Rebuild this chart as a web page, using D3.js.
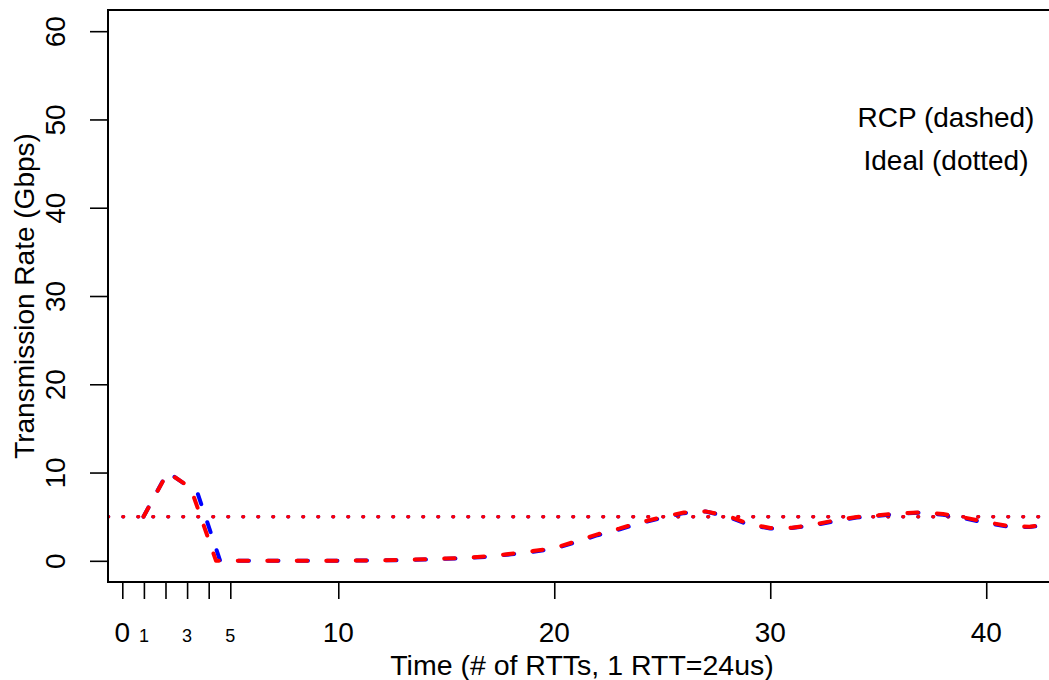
<!DOCTYPE html>
<html>
<head>
<meta charset="utf-8">
<script src="https://cdn.jsdelivr.net/npm/d3@7"></script>
<style>
  body { margin: 0; background: #fff; }
  svg { display: block; }
  text { font-family: "Liberation Sans", Arial, Helvetica, sans-serif; fill: #000; }
</style>
</head>
<body>
<svg id="chart" width="1049" height="680"></svg>
<script>
// Time in RTTs (1 RTT = 24us) and transmission rate in Gbps
const redTimes   = [0.98, 2.1, 3.16, 4.34, 5, 6, 8, 10, 12, 13, 14, 15, 16, 17, 18, 19, 20, 21, 22, 23, 24, 25, 26, 27, 28, 29, 30, 31, 32, 33, 34, 35, 36, 37, 38, 39, 40, 41, 42, 43, 44];
const redRates   = [5.0, 10.0, 8.3, 0.0, 0.0, 0.0, 0.0, 0.02, 0.06, 0.1, 0.17, 0.26, 0.36, 0.52, 0.8, 1.1, 1.45, 2.2, 3.0, 3.65, 4.36, 4.95, 5.47, 5.6, 5.12, 4.2, 3.72, 3.75, 4.1, 4.58, 4.97, 5.15, 5.39, 5.48, 5.3, 4.9, 4.4, 3.94, 3.86, 4.2, 4.6];
const blueTimes  = [0.98, 2.1, 3.48, 4.53, 5, 6, 8, 10, 12, 13, 14, 15, 16, 17, 18, 19, 20, 21, 22, 23, 24, 25, 26, 27, 28, 29, 30, 31, 32, 33, 34, 35, 36, 37, 38, 39, 40, 41, 42, 43, 44];
const blueRates  = [5.0, 10.05, 7.7, 0.0, 0.0, 0.0, 0.0, 0.02, 0.05, 0.09, 0.15, 0.23, 0.32, 0.47, 0.74, 1.03, 1.38, 2.1, 2.9, 3.55, 4.27, 4.87, 5.4, 5.58, 5.02, 4.1, 3.66, 3.72, 4.03, 4.5, 4.9, 5.1, 5.35, 5.46, 5.22, 4.8, 4.3, 3.88, 3.82, 4.12, 4.5];
const idealRate  = 5;

const yTicks        = [0, 10, 20, 30, 40, 50, 60];
const xMajorTicks   = [0, 10, 20, 30, 40];
const xMinorTicks   = [1, 2, 3, 4, 5];
const xMinorLabels  = ["1", "", "3", "", "5"];
const legendLines   = ["RCP (dashed)", "Ideal (dotted)"];
const xTitle = "Time (# of RTTs, 1 RTT=24us)";
const yTitle = "Transmission Rate (Gbps)";

// plot region (right border falls just outside the canvas)
const box = { left: 108, right: 1056, top: 10, bottom: 582 };

const svg = d3.select("#chart");

const x = d3.scaleLinear().domain([-0.662, 43.23]).range([box.left, box.right]);
const y = d3.scaleLinear().domain([-2.4, 62.4]).range([box.bottom, box.top]);

svg.append("defs").append("clipPath").attr("id", "plotClip")
  .append("rect")
  .attr("x", box.left).attr("y", box.top)
  .attr("width", box.right - box.left).attr("height", box.bottom - box.top);

const plot = svg.append("g").attr("clip-path", "url(#plotClip)");

// ideal rate, dotted
const ideal = d3.line().x(d => x(d)).y(() => y(idealRate));
["#0000ff", "#ff0000"].forEach(c => {
  plot.append("path")
    .attr("d", ideal(x.domain()))
    .attr("fill", "none")
    .attr("stroke", c)
    .attr("stroke-width", 3.6)
    .attr("stroke-linecap", "round")
    .attr("stroke-dasharray", "0.5 14.5");
});

// RCP flows, dashed
const rateLine = d3.line().x(d => x(d[0])).y(d => y(d[1]));
const series = [
  { color: "#0000ff", pts: d3.zip(blueTimes, blueRates) },
  { color: "#ff0000", pts: d3.zip(redTimes, redRates) }
];
series.forEach(s => {
  plot.append("path")
    .attr("d", rateLine(s.pts))
    .attr("fill", "none")
    .attr("stroke", s.color)
    .attr("stroke-width", 4)
    .attr("stroke-linecap", "round")
    .attr("stroke-linejoin", "round")
    .attr("stroke-dasharray", "10.5 19");
});

// frame
svg.append("rect")
  .attr("x", box.left).attr("y", box.top)
  .attr("width", box.right - box.left).attr("height", box.bottom - box.top)
  .attr("fill", "none").attr("stroke", "#000").attr("stroke-width", 2);

// y axis: ticks and rotated labels
const yAxis = d3.axisLeft(y).tickValues(yTicks).tickSize(18).tickFormat(d3.format("d"));
const yg = svg.append("g").attr("transform", `translate(${box.left},0)`).call(yAxis);
yg.select(".domain").remove();
yg.selectAll(".tick line").attr("stroke", "#000").attr("stroke-width", 1.6);
yg.selectAll(".tick text").remove();
yg.selectAll(".tick").append("text")
  .attr("transform", "translate(-43,0) rotate(-90)")
  .attr("text-anchor", "middle")
  .attr("font-size", 28)
  .text(d => d);

// x axis: main ticks plus the early RTT ticks
const xAxis = d3.axisBottom(x).tickValues(xMajorTicks.concat(xMinorTicks)).tickSize(17).tickFormat(() => "");
const xg = svg.append("g").attr("transform", `translate(0,${box.bottom})`).call(xAxis);
xg.select(".domain").remove();
xg.selectAll(".tick line").attr("stroke", "#000").attr("stroke-width", 1.6);
xg.selectAll(".tick text").remove();

svg.append("g").selectAll("text").data(xMajorTicks).join("text")
  .attr("x", d => x(d)).attr("y", 642)
  .attr("text-anchor", "middle").attr("font-size", 28)
  .text(d => d);

svg.append("g").selectAll("text").data(d3.zip(xMinorTicks, xMinorLabels)).join("text")
  .attr("x", d => x(d[0])).attr("y", 642)
  .attr("text-anchor", "middle").attr("font-size", 18)
  .text(d => d[1]);

// axis titles
svg.append("text")
  .attr("x", (box.left + box.right) / 2).attr("y", 674.5)
  .attr("text-anchor", "middle").attr("font-size", 28.5)
  .text(xTitle);

svg.append("text")
  .attr("transform", `translate(34,${(box.top + box.bottom) / 2}) rotate(-90)`)
  .attr("text-anchor", "middle").attr("font-size", 28)
  .text(yTitle);

// legend text
svg.append("g").selectAll("text").data(legendLines).join("text")
  .attr("x", 946).attr("y", (d, i) => 127 + i * 43)
  .attr("text-anchor", "middle").attr("font-size", 28)
  .text(d => d);
</script>
</body>
</html>
